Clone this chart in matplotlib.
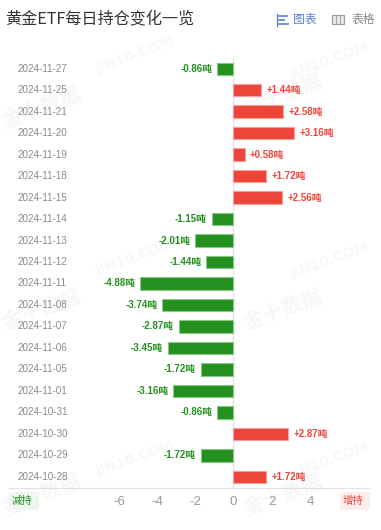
import matplotlib
matplotlib.use('Agg')
import matplotlib.pyplot as plt
from matplotlib.patches import FancyBboxPatch, Rectangle

plt.rcParams['font.family'] = ['Noto Sans CJK SC', 'DejaVu Sans']
plt.rcParams['axes.unicode_minus'] = False

dates = ['2024-11-27', '2024-11-25', '2024-11-21', '2024-11-20', '2024-11-19',
         '2024-11-18', '2024-11-15', '2024-11-14', '2024-11-13', '2024-11-12',
         '2024-11-11', '2024-11-08', '2024-11-07', '2024-11-06', '2024-11-05',
         '2024-11-01', '2024-10-31', '2024-10-30', '2024-10-29', '2024-10-28']
values = [-0.86, 1.44, 2.58, 3.16, 0.58, 1.72, 2.56, -1.15, -2.01, -1.44,
          -4.88, -3.74, -2.87, -3.45, -1.72, -3.16, -0.86, 2.87, -1.72, 1.72]
xticks = [-6, -4, -2, 0, 2, 4]

W, H = 381, 530
GREEN = '#23901f'
RED = '#ee453a'
LATIN_CJK = ['Liberation Sans', 'Noto Sans CJK SC']

fig = plt.figure(figsize=(W / 100, H / 100), dpi=100)

# overlay in pixel coordinates for header, badges and watermarks
bg = fig.add_axes([0, 0, 1, 1], zorder=0)
bg.set_xlim(0, W)
bg.set_ylim(H, 0)
bg.axis('off')

for x, y in [(135, 55), (330, 60), (135, 257), (330, 260), (135, 458), (330, 460)]:
    bg.text(x, y, 'JIN10.COM', color='#f8f8f8', fontsize=10, fontweight='bold',
            rotation=20, ha='center', va='center', family='DejaVu Sans')
for x, y in [(42, 108), (283, 95), (42, 310), (283, 310), (42, 495), (283, 495)]:
    bg.text(x, y, '金十数据', color='#f7f7f7', fontsize=15, fontweight='bold',
            rotation=20, ha='center', va='center')

bg.text(5, 20, '黄金ETF每日持仓变化一览', fontsize=11.6, color='#333333', ha='left', va='center')

# chart / table switch
blue = '#5b7fd6'
bg.plot([277, 277], [14, 26], color=blue, lw=0.9)
for y, x1 in [(16, 287), (20, 284), (24, 288)]:
    bg.plot([279, x1], [y, y], color=blue, lw=1.2)
bg.text(305, 19, '图表', fontsize=8.5, color=blue, ha='center', va='center')
bg.add_patch(Rectangle((332, 15), 12, 9, fc='#e4e8ec', ec='#999999', lw=0.8))
for x in [336, 340]:
    bg.plot([x, x], [15, 24], color='#999999', lw=0.6)
bg.text(363, 19, '表格', fontsize=8.5, color='#888888', ha='center', va='center')

# badges
bg.add_patch(FancyBboxPatch((9, 492), 30, 18, boxstyle='round,pad=0,rounding_size=3',
                            fc='#eaf7ea', ec='none'))
bg.text(22, 500.5, '减持', fontsize=7.5, color=GREEN, ha='center', va='center')
bg.add_patch(FancyBboxPatch((340, 492), 30, 18, boxstyle='round,pad=0,rounding_size=3',
                            fc='#fdeeee', ec='none'))
bg.text(353, 500.5, '增持', fontsize=7.5, color=RED, ha='center', va='center')

# main axes: x=0 at 233.5 px, 19.1 px per unit
left, right, top, bottom = 9, 370, 58, 487.5
ax = fig.add_axes([left / W, 1 - bottom / H, (right - left) / W, (bottom - top) / H], zorder=1)
ax.patch.set_alpha(0)
ax.set_xlim((left - 233.5) / 19.1, (right - 233.5) / 19.1)
ax.set_ylim(len(dates) - 0.5, -0.5)

for i, (d, v) in enumerate(zip(dates, values)):
    col = RED if v > 0 else GREEN
    edge = '#f5a09a' if v > 0 else '#8cc78a'
    ax.barh(i, v, height=0.58, color=col, edgecolor=edge, linewidth=0.8, zorder=3)
    label = f'{v:+.2f}吨'
    off = 0.28 if v > 0 else -0.24
    ax.text(v + off, i, label, color=col, fontsize=7, fontweight='bold',
            ha='left' if v > 0 else 'right', va='center', family=LATIN_CJK)
    ax.text(-11.3, i, d, color='#8a8a8a', fontsize=7.1, ha='left', va='center',
            family='Liberation Sans')

ax.axvline(0, color='#e4e4e4', lw=1, zorder=1)
for s in ['top', 'left', 'right']:
    ax.spines[s].set_visible(False)
ax.spines['bottom'].set_color('#e0e0e0')
ax.set_yticks([])
ax.set_xticks(xticks)
ax.tick_params(axis='x', length=0, pad=6, labelsize=9.5, labelcolor='#999999')
for t in ax.get_xticklabels():
    t.set_family('Liberation Sans')

fig.savefig('out.png', dpi=100)
